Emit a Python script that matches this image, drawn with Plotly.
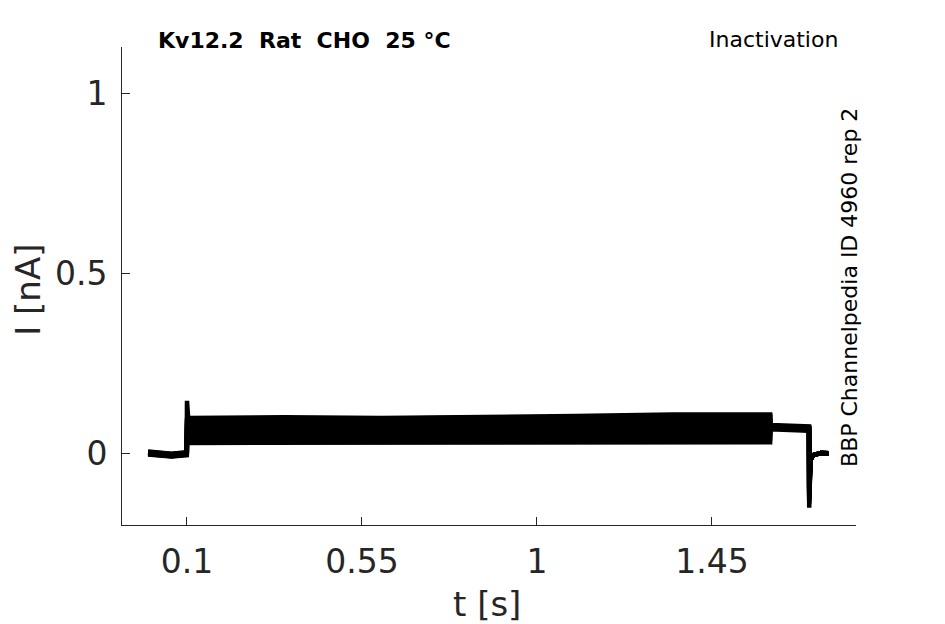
import plotly.graph_objects as go

# ---- data ----
t_base = [0.0, 0.03, 0.06, 0.0995]
baseline = [0.000, -0.004, -0.006, -0.002]
baseline_offset = [0.004, -0.002, 0.002, -0.004, 0.000, 0.003, -0.003, 0.001, -0.001, 0.002]

t_onset = 0.1
onset_peak = [0.030, 0.040, 0.050, 0.058, 0.066, 0.074, 0.082, 0.090, 0.098, 0.145]

t_plateau = [0.103, 0.35, 0.6, 0.85, 1.1, 1.35, 1.5995]
plateau_1 = [0.028, 0.028, 0.029, 0.029, 0.030, 0.030, 0.030]
plateau_2 = [0.037, 0.037, 0.038, 0.038, 0.039, 0.040, 0.040]
plateau_3 = [0.046, 0.046, 0.047, 0.048, 0.049, 0.050, 0.050]
plateau_4 = [0.055, 0.055, 0.056, 0.057, 0.058, 0.060, 0.060]
plateau_5 = [0.063, 0.064, 0.065, 0.066, 0.068, 0.070, 0.070]
plateau_6 = [0.071, 0.072, 0.073, 0.075, 0.077, 0.079, 0.080]
plateau_7 = [0.078, 0.080, 0.082, 0.084, 0.087, 0.089, 0.090]
plateau_8 = [0.085, 0.087, 0.089, 0.092, 0.095, 0.098, 0.099]
plateau_9 = [0.092, 0.094, 0.096, 0.098, 0.101, 0.104, 0.104]
plateau_10 = [0.097, 0.099, 0.097, 0.099, 0.103, 0.107, 0.107]
plateaus = [plateau_1, plateau_2, plateau_3, plateau_4, plateau_5,
            plateau_6, plateau_7, plateau_8, plateau_9, plateau_10]

t_tail = [1.6, 1.65, 1.6995]
tail_start = [0.066, 0.068, 0.070, 0.071, 0.072, 0.073, 0.074, 0.075, 0.076, 0.078]
tail_end = [0.062, 0.064, 0.066, 0.067, 0.068, 0.069, 0.070, 0.071, 0.072, 0.074]

t_spike = 1.7
spike_min = [-0.10, -0.11, -0.12, -0.13, -0.14, -0.152, -0.13, -0.12, -0.11, -0.10]

t_hook = [1.703, 1.71, 1.73, 1.75]
hook = [-0.020, -0.006, 0.000, -0.001]

x_ticks = [0.1, 0.55, 1, 1.45]
x_tick_text = ["0.1", "0.55", "1", "1.45"]
y_ticks = [0, 0.5, 1]
y_tick_text = ["0", "0.5", "1"]

# ---- figure ----
fig = go.Figure()
for i, pl in enumerate(plateaus):
    tt = t_base + [t_onset] + t_plateau + t_tail + [t_spike] + t_hook
    yy = ([b + baseline_offset[i] for b in baseline] + [onset_peak[i]] + pl
          + [tail_start[i], (tail_start[i] + tail_end[i]) / 2, tail_end[i]]
          + [spike_min[i]] + hook)
    fig.add_trace(go.Scatter(x=tt, y=yy, mode="lines",
                             line=dict(color="black", width=4.5),
                             showlegend=False, hoverinfo="skip"))

txt = "#262626"
fnt = "DejaVu Sans"
fig.update_layout(
    width=937, height=616,
    margin=dict(l=114, r=89, t=39, b=99),
    paper_bgcolor="white", plot_bgcolor="white",
    font=dict(family=fnt, color=txt),
    xaxis=dict(range=[-0.0671, 1.8203], tickvals=x_ticks, ticktext=x_tick_text,
               showgrid=False, zeroline=False, showline=True, linecolor="#262626",
               linewidth=1, ticks="inside", ticklen=8, tickcolor="#262626",
               tickfont=dict(size=33, color=txt), ticklabelstandoff=7),
    yaxis=dict(range=[-0.2, 1.1278], tickvals=y_ticks, ticktext=y_tick_text,
               showgrid=False, zeroline=False, showline=True, linecolor="#262626",
               linewidth=1, ticks="inside", ticklen=8, tickcolor="#262626",
               tickfont=dict(size=33, color=txt), ticklabelstandoff=7),
    annotations=[
        dict(text="<b>Kv12.2  Rat  CHO  25 °C</b>", xref="paper", yref="paper",
             x=0.046, y=1.0146, xanchor="left", yanchor="middle",
             showarrow=False, font=dict(size=22, color="black")),
        dict(text="Inactivation", xref="paper", yref="paper",
             x=0.978, y=1.0167, xanchor="right", yanchor="middle",
             showarrow=False, font=dict(size=22, color="black")),
        dict(text="BBP Channelpedia ID 4960 rep 2", xref="paper", yref="paper",
             x=0.9918, y=0.498, xanchor="center", yanchor="middle", textangle=-90,
             showarrow=False, font=dict(size=22, color="black")),
        dict(text="I [nA]", xref="paper", yref="paper",
             x=-0.1275, y=0.493, xanchor="center", yanchor="middle",
             textangle=-90, showarrow=False, font=dict(size=34, color=txt)),
        dict(text="t [s]", xref="paper", yref="paper",
             x=0.497, y=-0.165, xanchor="center", yanchor="middle",
             showarrow=False, font=dict(size=34, color=txt)),
    ],
)
fig.write_html("out.html")
